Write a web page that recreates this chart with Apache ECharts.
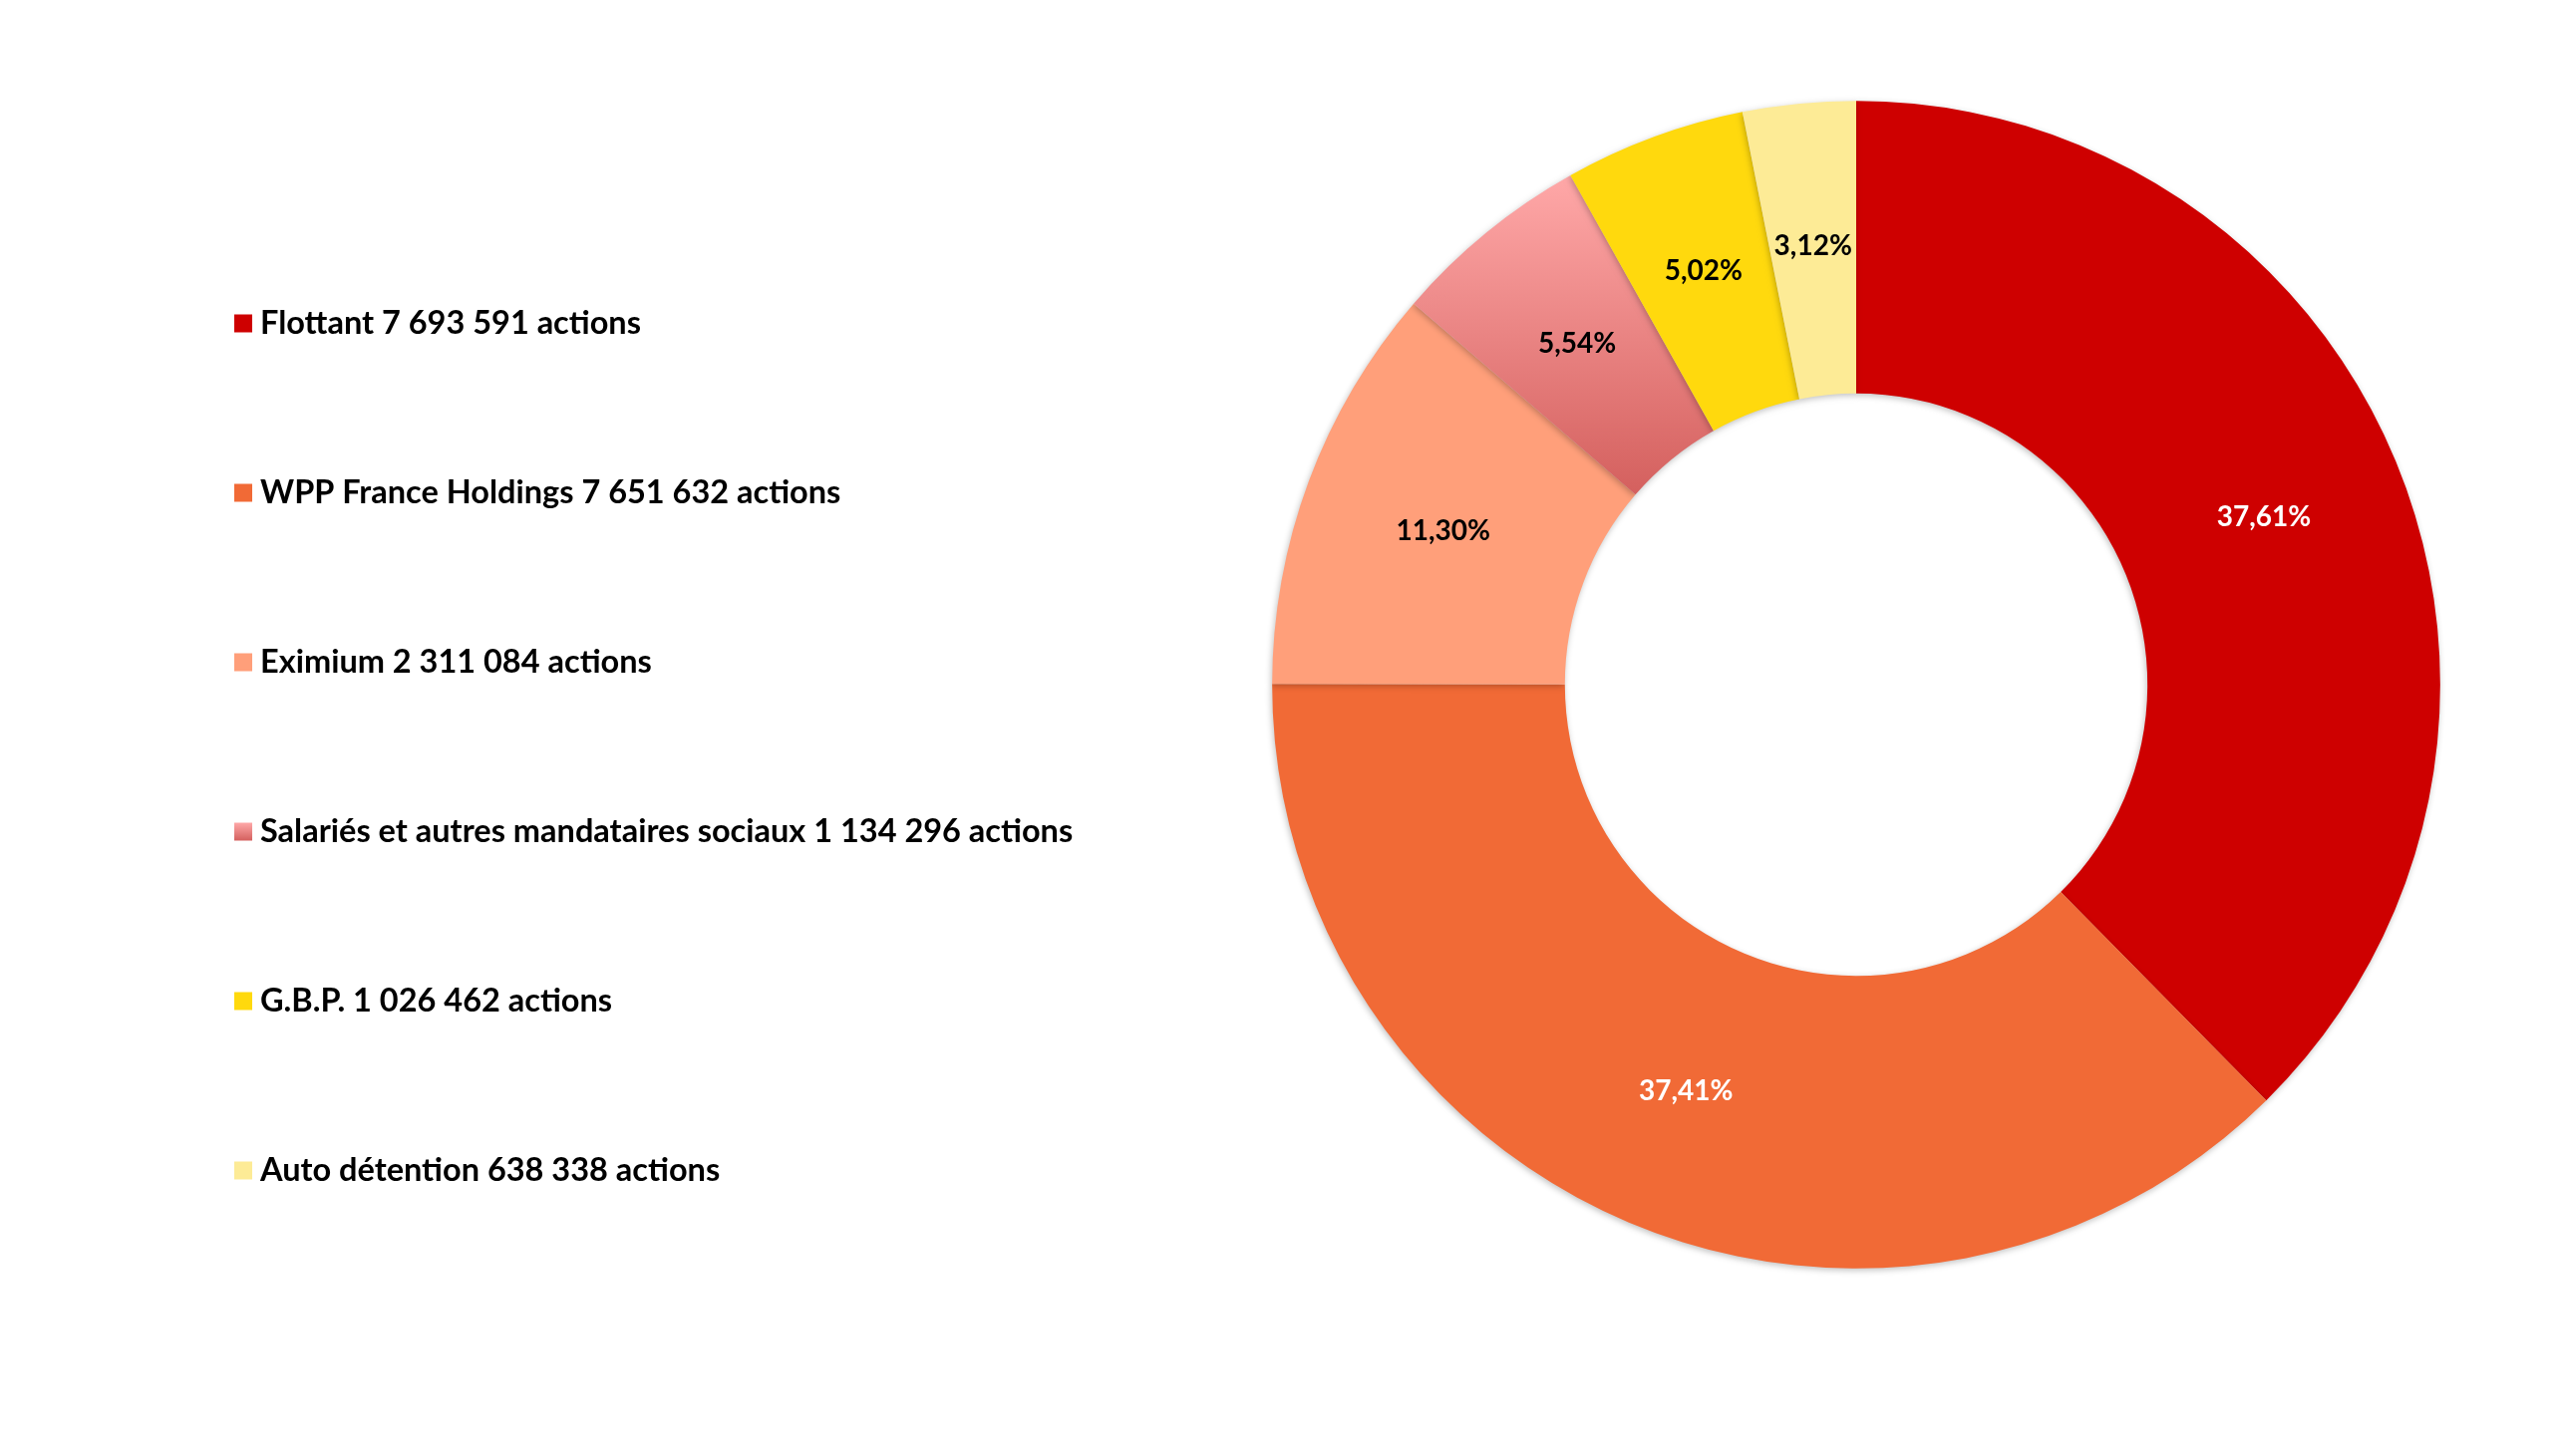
<!DOCTYPE html>
<html>
<head>
<meta charset="utf-8">
<script src="https://cdn.jsdelivr.net/npm/echarts@6/dist/echarts.min.js"></script>
<style>
html,body{margin:0;padding:0;background:#fff;}
#chart{width:2560px;height:1461px;}
</style>
</head>
<body>
<div id="chart"></div>
<script>
var names = ['Flottant', 'WPP France Holdings', 'Eximium', 'Salariés et autres mandataires sociaux', 'G.B.P.', 'Auto détention'];
var actions = [7693591, 7651632, 2311084, 1134296, 1026462, 638338];
var actionLabels = ['7 693 591', '7 651 632', '2 311 084', '1 134 296', '1 026 462', '638 338'];
var colors = ['#CE0000', '#F16A36', '#FF9F7A', null, '#FFD90D', '#FDEB96'];
var labelColors = ['#fff', '#fff', '#000', '#000', '#000', '#000'];

function donut(div) {
    var myChart = echarts.init(div);
    var data = [];
    for (let i = 0; i < names.length; i++) {
        var col = colors[i];
        if (col === null) {
            // dégradé vertical pour la part salariés
            col = new echarts.graphic.LinearGradient(0, 0, 0, 1, [
                {offset: 0, color: '#FFA8A8'},
                {offset: 1, color: '#D4605E'}
            ]);
        }
        data.push({
            name: names[i] + ' ' + actionLabels[i] + ' actions',
            value: actions[i],
            itemStyle: {color: col},
            label: {color: labelColors[i]}
        });
    }
    var option = {
        textStyle: {fontFamily: 'Lato'},
        legend: {
            orient: 'vertical',
            left: 235,
            top: 308,
            padding: 0,
            itemWidth: 18,
            itemHeight: 18,
            itemGap: 137,
            icon: 'rect',
            textStyle: {
                fontSize: 32.5,
                fontWeight: 'bold',
                color: '#000',
                lineHeight: 30,
                padding: [0, 0, 0, 3]
            }
        },
        series: [{
            type: 'pie',
            center: [1862, 687],
            radius: ['40%', '80.2%'],
            startAngle: 90,
            clockwise: true,
            avoidLabelOverlap: false,
            itemStyle: {
                shadowBlur: 6,
                shadowColor: 'rgba(0,0,0,0.25)',
                shadowOffsetX: -1,
                shadowOffsetY: 2
            },
            label: {
                show: true,
                position: 'inside',
                fontSize: 28,
                fontWeight: 'bold',
                fontFamily: 'Lato',
                formatter: function (p) {
                    return p.percent.toFixed(2).replace('.', ',') + '%';
                }
            },
            labelLine: {show: false},
            emphasis: {disabled: true},
            data: data
        }]
    };
    myChart.setOption(option, true);
}

donut(document.getElementById('chart'));
</script>
</body>
</html>
